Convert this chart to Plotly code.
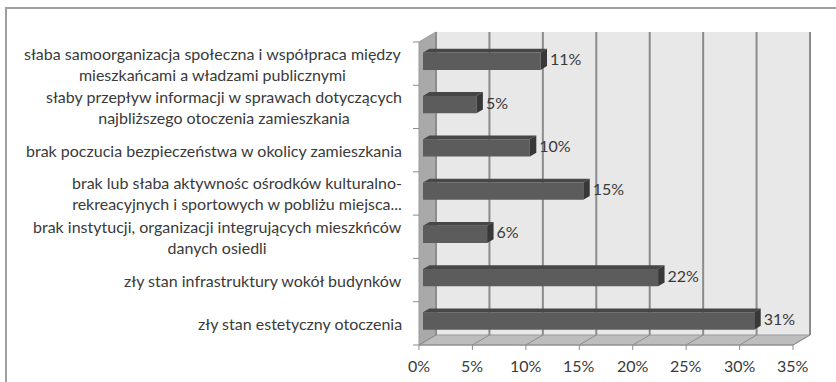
import plotly.graph_objects as go

# Problems reported by residents (top to bottom as displayed)
categories = [
    "słaba samoorganizacja społeczna i współpraca między<br>mieszkańcami a władzami publicznymi",
    "słaby przepływ informacji w sprawach dotyczących<br>najbliższego otoczenia zamieszkania",
    "brak poczucia bezpieczeństwa w okolicy zamieszkania",
    "brak lub słaba aktywnośc ośrodków kulturalno-<br>rekreacyjnych i sportowych w pobliżu miejsca...",
    "brak instytucji, organizacji integrujących mieszkńców<br>danych osiedli",
    "zły stan infrastruktury wokół budynków",
    "zły stan estetyczny otoczenia",
]
values = [11, 5, 10, 15, 6, 22, 31]
x_ticks = [0, 5, 10, 15, 20, 25, 30, 35]
x_tick_labels = ["0%", "5%", "10%", "15%", "20%", "25%", "30%", "35%"]

W, Hpx = 836, 382
SX = 10.686          # pixels per percent on the front plane
SY = 43.29           # pixels per category slot
X0_PX, Y0_PX = 419, 345  # front origin of the 3-D box
XMAX = 35
N = len(categories)

DX = 17 / SX         # depth offset of the back wall
DY = 10 / SY
TF, TB = 0.235, 0.615  # bar depth (front/back fraction)
BAR_W = 0.40

FONT = "Lato"
TXT = "#3a3a3a"
FS = 16

fig = go.Figure()

# ---- 3-D box: walls, floor, gridlines ---------------------------------------
shapes = []
TOP = N
# back wall
shapes.append(dict(type="rect", xref="x", yref="y", x0=DX, x1=XMAX + DX, y0=DY, y1=TOP + DY,
                   fillcolor="#e8e8e8", line=dict(width=0), layer="below"))
# left wall
shapes.append(dict(type="path", xref="x", yref="y",
                   path=f"M0,0 L0,{TOP} L{DX},{TOP+DY} L{DX},{DY} Z",
                   fillcolor="#a9a9a9", line=dict(color="#9a9a9a", width=1), layer="below"))
# floor
shapes.append(dict(type="path", xref="x", yref="y",
                   path=f"M0,0 L{XMAX},0 L{XMAX+DX},{DY} L{DX},{DY} Z",
                   fillcolor="#bdbdbd", line=dict(color="#9a9a9a", width=1), layer="below"))
for t in x_ticks:
    # vertical gridline on the back wall
    shapes.append(dict(type="line", xref="x", yref="y", x0=t + DX, x1=t + DX, y0=DY, y1=TOP + DY,
                       line=dict(color="#8c8c8c", width=2), layer="below"))
    # diagonal on the floor
    shapes.append(dict(type="line", xref="x", yref="y", x0=t, x1=t + DX, y0=0, y1=DY,
                       line=dict(color="#8c8c8c", width=1), layer="below"))
    # tick mark below the floor
    shapes.append(dict(type="line", xref="x", yref="y", x0=t, x1=t, y0=0, y1=-5 / SY,
                       line=dict(color="#8c8c8c", width=1), layer="below"))
# front axis line
shapes.append(dict(type="line", xref="x", yref="y", x0=0, x1=XMAX, y0=0, y1=0,
                   line=dict(color="#8c8c8c", width=1), layer="below"))
# category ticks on the left
for k in range(N + 1):
    shapes.append(dict(type="line", xref="x", yref="y", x0=-6 / SX, x1=0, y0=k, y1=k,
                       line=dict(color="#8c8c8c", width=1), layer="below"))
# outer chart border
shapes.append(dict(type="rect", xref="paper", yref="paper",
                   x0=6 / W, x1=(W + 10) / W, y0=-10 / Hpx, y1=1 - 8 / Hpx,
                   line=dict(color="#a0a0a0", width=2), fillcolor="rgba(0,0,0,0)"))

# ---- bars -------------------------------------------------------------------
slot = [N - 1 - i for i in range(N)]            # top category gets highest slot
yc = [s + 0.5 + TF * DY for s in slot]
base = TF * DX
ddx = (TB - TF) * DX
ddy = (TB - TF) * DY

fig.add_trace(go.Bar(
    x=values, y=yc, base=base, width=BAR_W, orientation="h",
    marker=dict(color="#5c5c5c", line=dict(width=0)), hoverinfo="skip",
))

top_x, top_y, side_x, side_y = [], [], [], []
for v, y in zip(values, yc):
    yt, yb = y + BAR_W / 2, y - BAR_W / 2
    xe = base + v
    top_x += [base, xe, xe + ddx, base + ddx, base, None]
    top_y += [yt, yt, yt + ddy, yt + ddy, yt, None]
    side_x += [xe, xe, xe + ddx, xe + ddx, xe, None]
    side_y += [yb, yt, yt + ddy, yb + ddy, yb, None]

fig.add_trace(go.Scatter(x=top_x, y=top_y, mode="lines", fill="toself",
                         fillcolor="#474747", line=dict(width=0), hoverinfo="skip"))
fig.add_trace(go.Scatter(x=side_x, y=side_y, mode="lines", fill="toself",
                         fillcolor="#383838", line=dict(width=0), hoverinfo="skip"))

# value labels
fig.add_trace(go.Scatter(
    x=[base + v + ddx + 3 / SX for v in values], y=yc, mode="text",
    text=[f"{v}%" for v in values], textposition="middle right",
    textfont=dict(family=FONT, size=FS, color=TXT), hoverinfo="skip", cliponaxis=False,
))

# ---- text labels ------------------------------------------------------------
annotations = []
for cat, s in zip(categories, slot):
    annotations.append(dict(xref="x", yref="y", x=-15 / SX, y=s + 0.5, text=cat,
                            xanchor="right", yanchor="middle", align="center", showarrow=False,
                            font=dict(family=FONT, size=FS, color=TXT)))
for t, lab in zip(x_ticks, x_tick_labels):
    annotations.append(dict(xref="x", yref="y", x=t, y=-20 / SY, text=lab,
                            xanchor="center", yanchor="middle", showarrow=False,
                            font=dict(family=FONT, size=FS, color=TXT)))

fig.update_layout(
    width=W, height=Hpx, margin=dict(l=0, r=0, t=0, b=0),
    paper_bgcolor="white", plot_bgcolor="white", showlegend=False,
    shapes=shapes, annotations=annotations, barmode="overlay",
    xaxis=dict(range=[-X0_PX / SX, (W - X0_PX) / SX], visible=False, fixedrange=True),
    yaxis=dict(range=[-(Hpx - Y0_PX) / SY, Y0_PX / SY], visible=False, fixedrange=True),
)

fig.write_html("out.html")
